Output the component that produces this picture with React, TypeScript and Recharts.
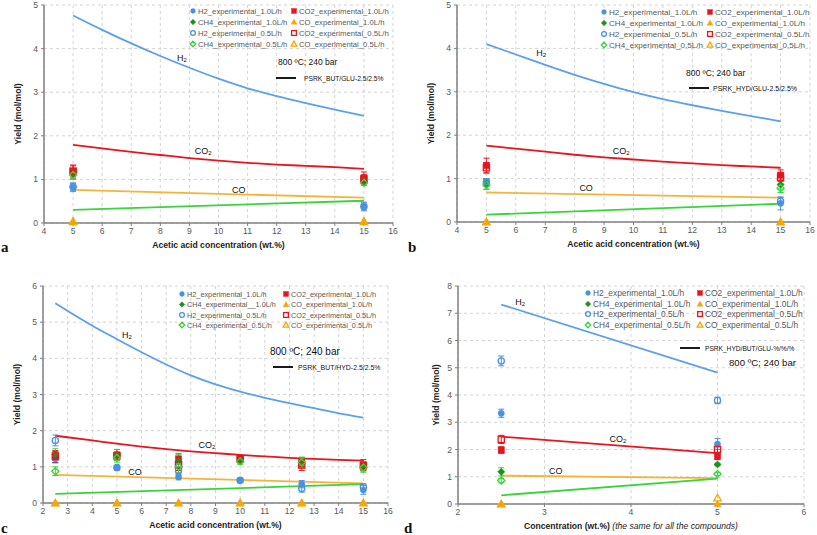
import React from 'react';
import { ComposedChart, Line, Scatter, XAxis, YAxis, CartesianGrid, ErrorBar, ReferenceDot, Legend } from 'recharts';

const FONT = '"Liberation Sans", Arial, sans-serif';
const BLUE = '#4a92e0';
const BLUE_LINE = '#5ba0e8';
const RED = '#e8141e';
const GREEN_DARK = '#1f8f1f';
const GREEN = '#3ad43a';
const ORANGE = '#f7a600';
const ORANGE_LINE = '#f4b43a';
const GRAY = '#595959';

// ---- panel a ----
const aModelX = [5, 6, 7, 8, 9, 10, 11, 12, 13, 14, 15];
const aH2Model = [4.76, 4.43, 4.12, 3.83, 3.56, 3.31, 3.09, 2.91, 2.75, 2.6, 2.46];
const aCO2Model = [1.79, 1.71, 1.63, 1.56, 1.49, 1.43, 1.38, 1.34, 1.31, 1.28, 1.24];
const aEndX = [5, 15];
const aCOModel = [0.76, 0.58];
const aCH4Model = [0.3, 0.51];
const aExpX = [5, 15];
const aH2_10 = [0.82, 0.38];
const aH2_05 = [0.83, 0.38];
const aCO2_10 = [1.18, 1.02];
const aCO2_05 = [1.19, 1.01];
const aCH4_10 = [1.12, 0.95];
const aCH4_05 = [1.1, 0.92];
const aCO_10 = [0.05, 0.05];
const aCO_05 = [0.03, 0.03];
const aH2_10e = [0.1, 0.1];
const aH2_05e = [0.08, 0.08];
const aCO2_10e = [0.15, 0.15];
const aCO2_05e = [0.12, 0.1];
const aCH4_10e = [0.12, 0.08];
const aCH4_05e = [0.1, 0.06];

// ---- panel b ----
const bModelX = [5, 6, 7, 8, 9, 10, 11, 12, 13, 14, 15];
const bH2Model = [4.1, 3.86, 3.62, 3.39, 3.18, 2.99, 2.83, 2.69, 2.56, 2.44, 2.32];
const bCO2Model = [1.76, 1.69, 1.62, 1.55, 1.49, 1.44, 1.39, 1.35, 1.31, 1.28, 1.25];
const bEndX = [5, 15];
const bCOModel = [0.68, 0.56];
const bCH4Model = [0.17, 0.42];
const bExpX = [5, 15];
const bH2_10 = [0.9, 0.43];
const bH2_05 = [0.93, 0.48];
const bCO2_10 = [1.3, 1.08];
const bCO2_05 = [1.25, 1.03];
const bCH4_10 = [0.88, 0.86];
const bCH4_05 = [0.85, 0.78];
const bCO_10 = [0, 0];
const bCO_05 = [0, 0];
const bH2_10e = [0.08, 0.15];
const bH2_05e = [0.07, 0.08];
const bCO2_10e = [0.17, 0.12];
const bCO2_05e = [0.12, 0.1];
const bCH4_10e = [0.12, 0.1];
const bCH4_05e = [0.1, 0.1];

// ---- panel c ----
const cModelX = [2.5, 4, 5, 6, 7, 8, 9, 10, 11, 12, 13, 14, 15];
const cH2Model = [5.52, 4.9, 4.53, 4.17, 3.83, 3.53, 3.28, 3.08, 2.91, 2.76, 2.62, 2.48, 2.36];
const cCO2Model = [1.86, 1.73, 1.64, 1.56, 1.49, 1.43, 1.38, 1.33, 1.29, 1.25, 1.22, 1.19, 1.17];
const cEndX = [2.5, 15];
const cCOModel = [0.78, 0.54];
const cCH4Model = [0.25, 0.52];
const cExpX = [2.5, 5, 7.5, 10, 12.5, 15];
const cH2_10 = [1.22, 0.97, 0.72, 0.62, 0.52, 0.36];
const cH2_05 = [1.73, 0.98, 0.9, 0.63, 0.4, 0.45];
const cCO2_10 = [1.28, 1.33, 1.22, 1.23, 1.13, 1.05];
const cCO2_05 = [1.3, 1.3, 1.05, 1.22, 1.05, 1.03];
const cCH4_10 = [1.35, 1.33, 1.15, 1.18, 1.1, 1.0];
const cCH4_05 = [0.88, 1.25, 1.0, 1.15, 1.12, 0.98];
const cCO_10 = [0, 0, 0, 0, 0, 0];
const cCO_05 = [0, 0, 0, 0, 0, 0];
const cH2_10e = [0.1, 0.06, 0.08, 0.06, 0.1, 0.12];
const cH2_05e = [0.15, 0.06, 0.1, 0.06, 0.1, 0.08];
const cCO2_10e = [0.17, 0.15, 0.14, 0.08, 0.12, 0.15];
const cCO2_05e = [0.12, 0.1, 0.15, 0.08, 0.15, 0.1];
const cCH4_10e = [0.15, 0.15, 0.2, 0.08, 0.12, 0.15];
const cCH4_05e = [0.12, 0.12, 0.15, 0.08, 0.15, 0.1];

// ---- panel d ----
const dEndX = [2.5, 5];
const dH2Model = [7.32, 4.82];
const dCO2Model = [2.47, 1.87];
const dCOModel = [1.04, 0.95];
const dCH4Model = [0.32, 0.93];
const dExpX = [2.5, 5];
const dH2_10 = [3.33, 2.2];
const dH2_05 = [5.25, 3.8];
const dCO2_10 = [1.98, 1.75];
const dCO2_05 = [2.37, 2.0];
const dCH4_10 = [1.18, 1.45];
const dCH4_05 = [0.86, 1.1];
const dCO_10 = [0, 0];
const dCO_05 = [0, 0.22];
const dH2_10e = [0.15, 0.2];
const dH2_05e = [0.18, 0.12];
const dCO2_10e = [0.12, 0.12];
const dCO2_05e = [0.15, 0.1];
const dCH4_10e = [0.15, 0.05];
const dCH4_05e = [0.08, 0.05];

const ticksA = [4, 5, 6, 7, 8, 9, 10, 11, 12, 13, 14, 15, 16];
const ticksC = [2, 3, 4, 5, 6, 7, 8, 9, 10, 11, 12, 13, 14, 15, 16];
const ticksD = [2, 3, 4, 5, 6];
const yTicks5 = [0, 1, 2, 3, 4, 5];
const yTicks6 = [0, 1, 2, 3, 4, 5, 6];
const yTicks8 = [0, 1, 2, 3, 4, 5, 6, 7, 8];

type Kind = 'circle' | 'square' | 'diamond' | 'triangle';

const STYLES: { kind: Kind; color: string; filled: boolean }[] = [
  { kind: 'circle', color: BLUE, filled: true },
  { kind: 'square', color: RED, filled: true },
  { kind: 'diamond', color: GREEN_DARK, filled: true },
  { kind: 'triangle', color: ORANGE, filled: true },
  { kind: 'circle', color: BLUE, filled: false },
  { kind: 'square', color: RED, filled: false },
  { kind: 'diamond', color: GREEN, filled: false },
  { kind: 'triangle', color: ORANGE, filled: false },
];

const Marker = ({ cx, cy, kind, color, filled, r }: any) => {
  if (cx == null || cy == null) return null;
  const p = { fill: filled ? color : 'none', stroke: color, strokeWidth: filled ? 0.5 : 1.3 };
  if (kind === 'circle') return <circle cx={cx} cy={cy} r={r} {...p} />;
  if (kind === 'square') return <rect x={cx - r} y={cy - r} width={2 * r} height={2 * r} {...p} />;
  if (kind === 'diamond') {
    const d = r * 1.15;
    return <polygon points={`${cx},${cy - d} ${cx + d},${cy} ${cx},${cy + d} ${cx - d},${cy}`} {...p} />;
  }
  const t = r * 1.2;
  return <polygon points={`${cx},${cy - t} ${cx + t},${cy + t * 0.75} ${cx - t},${cy + t * 0.75}`} {...p} />;
};

const pts = (xs: number[], ys: number[], es?: number[]) =>
  xs.map((x, i) => ({ x, y: ys[i], e: es ? es[i] : 0 }));

const Formula = ({ viewBox, main, sub }: any) => {
  const x = viewBox.x + (viewBox.width || 0) / 2;
  const y = viewBox.y + (viewBox.height || 0) / 2;
  return (
    <text x={x} y={y} fontSize={9} fontFamily={FONT} fill="#111" textAnchor="middle" dominantBaseline="central">
      {main}
      {sub ? <tspan fontSize={6} dy={2}>{sub}</tspan> : null}
    </text>
  );
};

const XTitle = ({ viewBox, text, extra }: any) => (
  <text x={viewBox.x + viewBox.width / 2} y={viewBox.y + 22} textAnchor="middle" dominantBaseline="central"
    fontFamily={FONT} fontSize={8.6} fontWeight="bold" fill="#222">
    {text}
    {extra ? <tspan fontWeight="normal" fontStyle="italic">{extra}</tspan> : null}
  </text>
);

const YTitle = ({ viewBox, gap }: any) => {
  const x = viewBox.x + viewBox.width - gap;
  const y = viewBox.y + viewBox.height / 2;
  return (
    <text x={x} y={y} transform={`rotate(-90 ${x} ${y})`} textAnchor="middle" dominantBaseline="central"
      fontFamily={FONT} fontSize={8.6} fontWeight="bold" fill="#222">
      Yield (mol/mol)
    </text>
  );
};

interface LegendCfg {
  names: string[];
  col1: number;
  col2: number;
  rows: number[];
  fs: number;
  model: string;
  cond: { x: number; y: number; fs: number };
  line: { x1: number; x2: number; y: number; tx: number; fs: number };
}

const LegendArt = ({ cfg, w, h }: { cfg: LegendCfg; w: number; h: number }) => {
  // left column H2, CH4 (1.0 then 0.5); right column CO2, CO
  const order = [
    [0, 0, 0], [2, 0, 1], [4, 0, 2], [6, 0, 3],
    [1, 1, 0], [3, 1, 1], [5, 1, 2], [7, 1, 3],
  ];
  return (
    <svg width={w} height={h} style={{ display: 'block' }}>
      {order.map(([s, col, row]) => {
        const st = STYLES[s];
        const mx = col === 0 ? cfg.col1 : cfg.col2;
        const y = cfg.rows[row];
        return (
          <g key={s}>
            <Marker cx={mx} cy={y} kind={st.kind} color={st.color} filled={st.filled} r={2.4} />
            <text x={mx + 5} y={y} dominantBaseline="central" fontFamily={FONT} fontSize={cfg.fs} fill={GRAY}>
              {cfg.names[s]}
            </text>
          </g>
        );
      })}
      <text x={cfg.cond.x} y={cfg.cond.y} dominantBaseline="central" fontFamily={FONT} fontSize={cfg.cond.fs} fill="#111">
        800 ºC; 240 bar
      </text>
      <line x1={cfg.line.x1} x2={cfg.line.x2} y1={cfg.line.y} y2={cfg.line.y} stroke="#000" strokeWidth={1.8} />
      <text x={cfg.line.tx} y={cfg.line.y} dominantBaseline="central" fontFamily={FONT} fontSize={cfg.line.fs} fill="#111">
        {cfg.model}
      </text>
    </svg>
  );
};

interface PanelProps {
  left: number;
  top: number;
  width: number;
  height: number;
  margin: { top: number; right: number; bottom: number; left: number };
  yAxisWidth: number;
  xAxisHeight: number;
  yGap: number;
  xDomain: [number, number];
  xTicks: number[];
  yDomain: [number, number];
  yTicks: number[];
  xTitle: string;
  xExtra?: string;
  models: { color: string; data: { x: number; y: number }[] }[];
  series: { x: number; y: number; e: number }[][];
  notes: { x: number; y: number; main: string; sub?: string }[];
  legend: LegendCfg;
}

const Panel = (p: PanelProps) => (
  <div style={{ position: 'absolute', left: p.left, top: p.top }}>
    <ComposedChart width={p.width} height={p.height} margin={p.margin}>
      <CartesianGrid strokeDasharray="3 3" stroke="#d4d4d4" />
      <XAxis dataKey="x" type="number" domain={p.xDomain} ticks={p.xTicks} interval={0}
        height={p.xAxisHeight} tick={{ fontSize: 8.6, fill: GRAY, fontFamily: FONT }}
        axisLine={{ stroke: '#808080', strokeWidth: 1.5 }} tickLine={{ stroke: '#808080' }} tickSize={3} tickMargin={2}
        label={<XTitle text={p.xTitle} extra={p.xExtra} />} />
      <YAxis type="number" domain={p.yDomain} ticks={p.yTicks} interval={0} width={p.yAxisWidth}
        tick={{ fontSize: 8.6, fill: GRAY, fontFamily: FONT }}
        axisLine={{ stroke: '#808080', strokeWidth: 1.5 }} tickLine={{ stroke: '#808080' }} tickSize={3} tickMargin={3}
        label={<YTitle gap={p.yGap} />} />
      {p.models.map((m, i) => (
        <Line key={'m' + i} data={m.data} dataKey="y" type="monotone" stroke={m.color} strokeWidth={1.8}
          dot={false} activeDot={false} isAnimationActive={false} />
      ))}
      {p.series.map((d, i) => {
        const st = STYLES[i];
        return (
          <Scatter key={'s' + i} data={d} dataKey="y" isAnimationActive={false}
            shape={(sp: any) => <Marker cx={sp.cx} cy={sp.cy} kind={st.kind} color={st.color} filled={st.filled} r={3.1} />}>
            {st.kind !== 'triangle' ? (
              <ErrorBar dataKey="e" direction="y" width={3} strokeWidth={1} stroke={st.filled && st.kind === 'diamond' ? GREEN : st.color} />
            ) : null}
          </Scatter>
        );
      })}
      {p.notes.map((n, i) => (
        <ReferenceDot key={'n' + i} x={n.x} y={n.y} r={0} stroke="none" fill="none"
          label={<Formula main={n.main} sub={n.sub} />} />
      ))}
      <Legend layout="vertical" align="center" verticalAlign="middle"
        wrapperStyle={{ left: 0, top: 0, width: p.width, height: p.height, pointerEvents: 'none' }}
        content={() => <LegendArt cfg={p.legend} w={p.width} h={p.height} />} />
    </ComposedChart>
  </div>
);

const namesStd = [
  'H2_experimental_1.0L/h', 'CO2_experimental_1.0L/h', 'CH4_experimental_1.0L/h', 'CO_experimental_1.0L/h',
  'H2_experimental_0.5L/h', 'CO2_experimental_0.5L/h', 'CH4_experimental_0.5L/h', 'CO_experimental_0.5L/h',
];
const namesC = [
  'H2_experimental_1.0L/h', 'CO2_experimental_1.0L/h', 'CH4_experimental__1.0L/h', 'CO_experimental_1.0L/h',
  'H2_experimental_0.5L/h', 'CO2_experimental_0.5L/h', 'CH4_experimental_0.5L/h', 'CO_experimental_0.5L/h',
];

const modelSet = (hx: number[], h2: number[], co2: number[], lx: number[], co: number[], ch4: number[]) => [
  { color: BLUE_LINE, data: pts(hx, h2) },
  { color: RED, data: pts(hx, co2) },
  { color: ORANGE_LINE, data: pts(lx, co) },
  { color: GREEN, data: pts(lx, ch4) },
];

const Letter = ({ x, y, t }: { x: number; y: number; t: string }) => (
  <text x={x} y={y} fontFamily='"Liberation Serif", "Times New Roman", serif' fontWeight="bold" fontSize={15} fill="#111">{t}</text>
);

export default function App() {
  return (
    <div style={{ position: 'absolute', left: 0, top: 0, width: 817, height: 535, background: '#fff', overflow: 'hidden' }}>
      <Panel left={0} top={0} width={408} height={265}
        margin={{ top: 5, right: 15, bottom: 4, left: 4 }} yAxisWidth={40} xAxisHeight={38} yGap={26}
        xDomain={[4, 16]} xTicks={ticksA} yDomain={[0, 5]} yTicks={yTicks5}
        xTitle="Acetic acid concentration (wt.%)"
        models={modelSet(aModelX, aH2Model, aCO2Model, aEndX, aCOModel, aCH4Model)}
        series={[
          pts(aExpX, aH2_10, aH2_10e), pts(aExpX, aCO2_10, aCO2_10e), pts(aExpX, aCH4_10, aCH4_10e), pts(aExpX, aCO_10),
          pts(aExpX, aH2_05, aH2_05e), pts(aExpX, aCO2_05, aCO2_05e), pts(aExpX, aCH4_05, aCH4_05e), pts(aExpX, aCO_05),
        ]}
        notes={[
          { x: 8.74, y: 3.78, main: 'H', sub: '2' },
          { x: 9.47, y: 1.65, main: 'CO', sub: '2' },
          { x: 10.7, y: 0.76, main: 'CO' },
        ]}
        legend={{
          names: namesStd, col1: 193, col2: 294, rows: [11, 22, 33, 44], fs: 7.7,
          model: 'PSRK_BUT/GLU-2.5/2.5%',
          cond: { x: 278, y: 62, fs: 8.5 },
          line: { x1: 276, x2: 296, y: 78, tx: 304, fs: 6.7 },
        }} />
      <Panel left={408} top={0} width={409} height={265}
        margin={{ top: 5, right: 7, bottom: 5, left: 4 }} yAxisWidth={45} xAxisHeight={38} yGap={26}
        xDomain={[4, 16]} xTicks={ticksA} yDomain={[0, 5]} yTicks={yTicks5}
        xTitle="Acetic acid concentration (wt.%)"
        models={modelSet(bModelX, bH2Model, bCO2Model, bEndX, bCOModel, bCH4Model)}
        series={[
          pts(bExpX, bH2_10, bH2_10e), pts(bExpX, bCO2_10, bCO2_10e), pts(bExpX, bCH4_10, bCH4_10e), pts(bExpX, bCO_10),
          pts(bExpX, bH2_05, bH2_05e), pts(bExpX, bCO2_05, bCO2_05e), pts(bExpX, bCH4_05, bCH4_05e), pts(bExpX, bCO_05),
        ]}
        notes={[
          { x: 6.86, y: 3.89, main: 'H', sub: '2' },
          { x: 9.58, y: 1.64, main: 'CO', sub: '2' },
          { x: 8.39, y: 0.78, main: 'CO' },
        ]}
        legend={{
          names: namesStd, col1: 196, col2: 302, rows: [12, 23, 34, 45], fs: 8.1,
          model: 'PSRK_HYD/GLU-2.5/2.5%',
          cond: { x: 278, y: 73, fs: 8.5 },
          line: { x1: 281, x2: 301, y: 88, tx: 305, fs: 7 },
        }} />
      <Panel left={0} top={265} width={408} height={270}
        margin={{ top: 21, right: 20, bottom: 4, left: 4 }} yAxisWidth={39} xAxisHeight={28} yGap={26}
        xDomain={[2, 16]} xTicks={ticksC} yDomain={[0, 6]} yTicks={yTicks6}
        xTitle="Acetic acid concentration (wt.%)"
        models={modelSet(cModelX, cH2Model, cCO2Model, cEndX, cCOModel, cCH4Model)}
        series={[
          pts(cExpX, cH2_10, cH2_10e), pts(cExpX, cCO2_10, cCO2_10e), pts(cExpX, cCH4_10, cCH4_10e), pts(cExpX, cCO_10),
          pts(cExpX, cH2_05, cH2_05e), pts(cExpX, cCO2_05, cCO2_05e), pts(cExpX, cCH4_05, cCH4_05e), pts(cExpX, cCO_05),
        ]}
        notes={[
          { x: 5.41, y: 4.65, main: 'H', sub: '2' },
          { x: 8.65, y: 1.6, main: 'CO', sub: '2' },
          { x: 5.73, y: 0.86, main: 'CO' },
        ]}
        legend={{
          names: namesC, col1: 182, col2: 286, rows: [29, 39.5, 50, 60], fs: 7.3,
          model: 'PSRK_BUT/HYD-2.5/2.5%',
          cond: { x: 270, y: 86, fs: 10 },
          line: { x1: 273, x2: 293, y: 102, tx: 298, fs: 6.9 },
        }} />
      <Panel left={408} top={265} width={409} height={270}
        margin={{ top: 21, right: 13, bottom: 3, left: 4 }} yAxisWidth={46} xAxisHeight={28} yGap={22}
        xDomain={[2, 6]} xTicks={ticksD} yDomain={[0, 8]} yTicks={yTicks8}
        xTitle="Concentration (wt.%) " xExtra="(the same for all the compounds)"
        models={modelSet(dEndX, dH2Model, dCO2Model, dEndX, dCOModel, dCH4Model)}
        series={[
          pts(dExpX, dH2_10, dH2_10e), pts(dExpX, dCO2_10, dCO2_10e), pts(dExpX, dCH4_10, dCH4_10e), pts(dExpX, dCO_10),
          pts(dExpX, dH2_05, dH2_05e), pts(dExpX, dCO2_05, dCO2_05e), pts(dExpX, dCH4_05, dCH4_05e), pts(dExpX, dCO_05),
        ]}
        notes={[
          { x: 2.72, y: 7.41, main: 'H', sub: '2' },
          { x: 3.85, y: 2.39, main: 'CO', sub: '2' },
          { x: 3.13, y: 1.21, main: 'CO' },
        ]}
        legend={{
          names: namesStd, col1: 180, col2: 292, rows: [28, 39, 49, 60], fs: 8.4,
          model: 'PSRK_HYD/BUT/GLU-%/%/%',
          cond: { x: 321, y: 97, fs: 9.6 },
          line: { x1: 272, x2: 292, y: 83, tx: 297, fs: 6.6 },
        }} />
      <svg width={817} height={535} style={{ position: 'absolute', left: 0, top: 0, pointerEvents: 'none' }}>
        <Letter x={1} y={252} t="a" />
        <Letter x={408} y={252} t="b" />
        <Letter x={1} y={533} t="c" />
        <Letter x={404} y={533} t="d" />
      </svg>
    </div>
  );
}
